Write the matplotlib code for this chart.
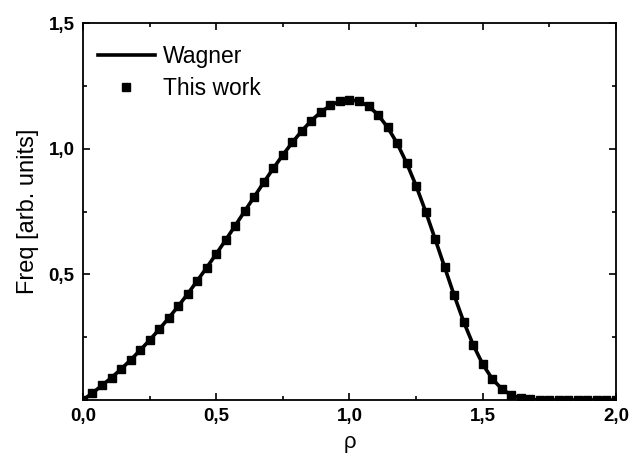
import matplotlib
matplotlib.use('Agg')
import matplotlib.pyplot as plt
import numpy as np
from matplotlib.ticker import MultipleLocator, FixedLocator, FixedFormatter

plt.rcParams['font.family'] = ['Liberation Sans', 'DejaVu Sans']

# rho grid (step 1/28) and frequency values
rho = np.arange(57) / 28.0
freq = [0.0, 0.028, 0.058, 0.089, 0.123, 0.159, 0.198, 0.238, 0.281, 0.326,
        0.373, 0.422, 0.474, 0.527, 0.581, 0.637, 0.694, 0.752, 0.809, 0.866,
        0.922, 0.975, 1.025, 1.071, 1.112, 1.146, 1.172, 1.189, 1.195, 1.189,
        1.169, 1.135, 1.085, 1.022, 0.943, 0.852, 0.750, 0.640, 0.528, 0.416,
        0.311, 0.219, 0.142, 0.084, 0.044, 0.019, 0.007, 0.002, 0.0, 0.0,
        0.0, 0.0, 0.0, 0.0, 0.0, 0.0, 0.0]

xticks = [0.0, 0.5, 1.0, 1.5, 2.0]
xlabels = ['0,0', '0,5', '1,0', '1,5', '2,0']
yticks = [0.5, 1.0, 1.5]
ylabels = ['0,5', '1,0', '1,5']

fig = plt.figure(figsize=(6.3, 4.65), dpi=100)
ax = fig.add_axes([0.1317, 0.1398, 0.8461, 0.8107])

ax.plot(rho, freq, color='black', lw=2.6, label='Wagner')
ax.plot(rho, freq, ls='none', marker='s', ms=6, color='black', label='This work')

ax.set_xlim(0, 2.0)
ax.set_ylim(0, 1.5)
ax.xaxis.set_major_locator(FixedLocator(xticks))
ax.xaxis.set_major_formatter(FixedFormatter(xlabels))
ax.yaxis.set_major_locator(FixedLocator(yticks))
ax.yaxis.set_major_formatter(FixedFormatter(ylabels))
ax.xaxis.set_minor_locator(MultipleLocator(0.25))
ax.yaxis.set_minor_locator(MultipleLocator(0.25))
ax.tick_params(which='both', direction='in', top=True, right=True, width=1.2)
ax.tick_params(which='major', length=5, labelsize=13.5, pad=6)
ax.tick_params(which='minor', length=3)
for lab in ax.get_xticklabels() + ax.get_yticklabels():
    lab.set_fontweight('bold')
for s in ax.spines.values():
    s.set_linewidth(1.3)

ax.set_xlabel('ρ', fontsize=16, labelpad=5)
ax.set_ylabel('Freq [arb. units]', fontsize=17, labelpad=7)

leg = ax.legend(loc='upper left', bbox_to_anchor=(-0.013, 1.0), frameon=False,
                fontsize=16.5, handlelength=2.5, handletextpad=0.35,
                borderaxespad=0.55, labelspacing=0.4)

plt.savefig('out.png', dpi=100)
